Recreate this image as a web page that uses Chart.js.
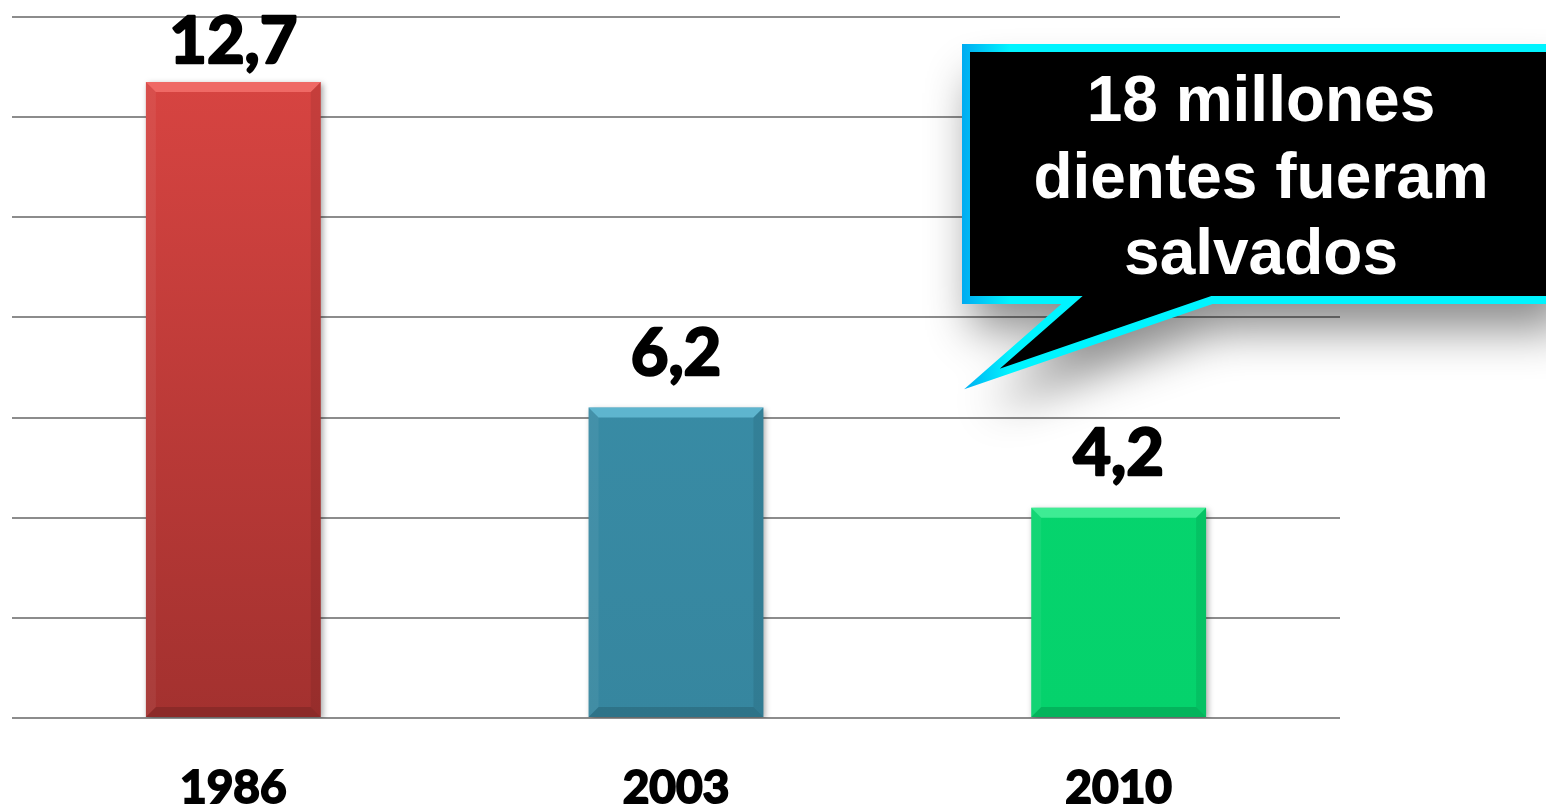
<!DOCTYPE html>
<html>
<head>
<meta charset="utf-8">
<script src="https://cdn.jsdelivr.net/npm/chart.js@4/dist/chart.umd.min.js"></script>
<style>
  html, body { margin: 0; padding: 0; background: #ffffff; }
  #wrap { width: 1546px; height: 806px; position: relative; }
  canvas { display: block; }
</style>
</head>
<body>
<div id="wrap"><canvas id="c" width="1546" height="806"></canvas></div>
<script>
// ---- data ----
const categories = ['1986', '2003', '2010'];
const values = [12.7, 6.2, 4.2];
const yTicks = [0, 2, 4, 6, 8, 10, 12, 14];
const calloutLines = ['18 millones', 'dientes fueram', 'salvados'];

// ---- styles ----
const barTop = ['#DC4643', '#3B91AB', '#06D870'];
const barBottom = ['#A3312F', '#36869F', '#05D26C'];
const bevelLight = ['rgba(255,130,125,0.6)', 'rgba(120,210,235,0.6)', 'rgba(110,255,180,0.55)'];
const labelFont = 'bold 65px Lato';

function fmt(v) { return v.toLocaleString('es-ES', { minimumFractionDigits: 1, maximumFractionDigits: 1 }); }

const barEffects = {
  id: 'barEffects',
  beforeDatasetsDraw(chart) {
    const ctx = chart.ctx;
    ctx.save();
    ctx.shadowColor = 'rgba(0,0,0,0.35)';
    ctx.shadowBlur = 6;
    ctx.shadowOffsetX = 2;
    ctx.shadowOffsetY = 2;
  },
  afterDatasetsDraw(chart) {
    const ctx = chart.ctx;
    ctx.restore();
    const meta = chart.getDatasetMeta(0);
    meta.data.forEach((bar, i) => {
      const p = bar.getProps(['x', 'y', 'base', 'width'], true);
      const l = p.x - p.width / 2, r = p.x + p.width / 2, t = p.y, b = p.base;
      const d = 10;
      ctx.save();
      ctx.fillStyle = bevelLight[i];
      ctx.beginPath();
      ctx.moveTo(l, t); ctx.lineTo(r, t); ctx.lineTo(r - d, t + d); ctx.lineTo(l + d, t + d); ctx.closePath();
      ctx.fill();
      ctx.fillStyle = 'rgba(255,255,255,0.06)';
      ctx.beginPath();
      ctx.moveTo(l, t); ctx.lineTo(l + d, t + d); ctx.lineTo(l + d, b - d); ctx.lineTo(l, b); ctx.closePath();
      ctx.fill();
      ctx.fillStyle = 'rgba(0,0,0,0.08)';
      ctx.beginPath();
      ctx.moveTo(r, t); ctx.lineTo(r - d, t + d); ctx.lineTo(r - d, b - d); ctx.lineTo(r, b); ctx.closePath();
      ctx.fill();
      ctx.fillStyle = 'rgba(0,0,0,0.14)';
      ctx.beginPath();
      ctx.moveTo(l, b); ctx.lineTo(l + d, b - d); ctx.lineTo(r - d, b - d); ctx.lineTo(r, b); ctx.closePath();
      ctx.fill();
      ctx.restore();

      ctx.save();
      ctx.font = labelFont;
      ctx.fillStyle = '#000';
      ctx.strokeStyle = '#000';
      ctx.lineWidth = 2.5;
      ctx.lineJoin = 'round';
      ctx.textAlign = 'center';
      ctx.textBaseline = 'alphabetic';
      const baseline = Math.max(t - 33, 63);
      ctx.fillText(fmt(values[i]), p.x, baseline);
      ctx.strokeText(fmt(values[i]), p.x, baseline);
      ctx.restore();
    });
  }
};

const callout = {
  id: 'callout',
  afterDraw(chart) {
    const ctx = chart.ctx;
    const L = 966, T = 48, R = 1560, B = 300;
    const tailL = 1072, tailR = 1212, tipX = 982, tipY = 379;
    function shape() {
      ctx.beginPath();
      ctx.moveTo(L, T);
      ctx.lineTo(R, T);
      ctx.lineTo(R, B);
      ctx.lineTo(tailR, B);
      ctx.lineTo(tipX, tipY);
      ctx.lineTo(tailL, B);
      ctx.lineTo(L, B);
      ctx.closePath();
    }
    ctx.save();
    ctx.shadowColor = 'rgba(0,0,0,0.45)';
    ctx.shadowBlur = 45;
    ctx.shadowOffsetX = 6;
    ctx.shadowOffsetY = 30;
    shape();
    ctx.fillStyle = '#000';
    ctx.fill();
    ctx.restore();

    ctx.save();
    shape();
    ctx.fillStyle = '#000';
    ctx.fill();
    const g = ctx.createLinearGradient(960, 0, 1010, 0);
    g.addColorStop(0, '#00A8F0');
    g.addColorStop(1, '#00F4FF');
    ctx.strokeStyle = g;
    ctx.lineWidth = 8;
    ctx.lineJoin = 'miter';
    ctx.stroke();
    ctx.restore();

    ctx.save();
    ctx.font = 'bold 64px "Liberation Sans", Arial, sans-serif';
    ctx.fillStyle = '#ffffff';
    ctx.textAlign = 'center';
    ctx.textBaseline = 'alphabetic';
    const cx = 1261;
    const baselines = [121, 198, 274];
    calloutLines.forEach((s, i) => ctx.fillText(s, cx, baselines[i]));
    ctx.restore();
  }
};

function build() {
  const ctx = document.getElementById('c').getContext('2d');
  new Chart(ctx, {
    type: 'bar',
    data: {
      labels: categories,
      datasets: [{
        data: values,
        backgroundColor: (c) => {
          const area = c.chart.chartArea;
          if (!area) return barTop[c.dataIndex];
          const g = c.chart.ctx.createLinearGradient(0, area.top, 0, area.bottom);
          g.addColorStop(0, barTop[c.dataIndex]);
          g.addColorStop(1, barBottom[c.dataIndex]);
          return g;
        },
        borderWidth: 0,
        barPercentage: 0.79,
        categoryPercentage: 0.5
      }]
    },
    options: {
      responsive: false,
      animation: false,
      devicePixelRatio: 1,
      layout: { padding: { left: 12, right: 206, top: 17, bottom: 0 } },
      plugins: { legend: { display: false }, tooltip: { enabled: false } },
      scales: {
        x: {
          grid: { display: false, drawTicks: false },
          border: { display: false },
          ticks: {
            color: '#000',
            font: { family: 'Lato', weight: 'bold', size: 46 },
            textStrokeColor: '#000',
            textStrokeWidth: 2,
            padding: 43,
            maxRotation: 0
          },
          afterFit(scale) { scale.height = 88; }
        },
        y: {
          display: true,
          min: 0,
          max: 14,
          afterBuildTicks(scale) { scale.ticks = yTicks.map(v => ({ value: v })); },
          ticks: { display: false },
          border: { display: false },
          grid: { color: '#8C8C8C', lineWidth: 2, drawTicks: false },
          afterFit(scale) { scale.width = 0; }
        }
      }
    },
    plugins: [barEffects, callout]
  });
}

Promise.all([
  document.fonts.load(labelFont),
  document.fonts.load('bold 46px Lato'),
  document.fonts.load('bold 64px "Liberation Sans"')
]).then(build, build);
</script>
</body>
</html>
